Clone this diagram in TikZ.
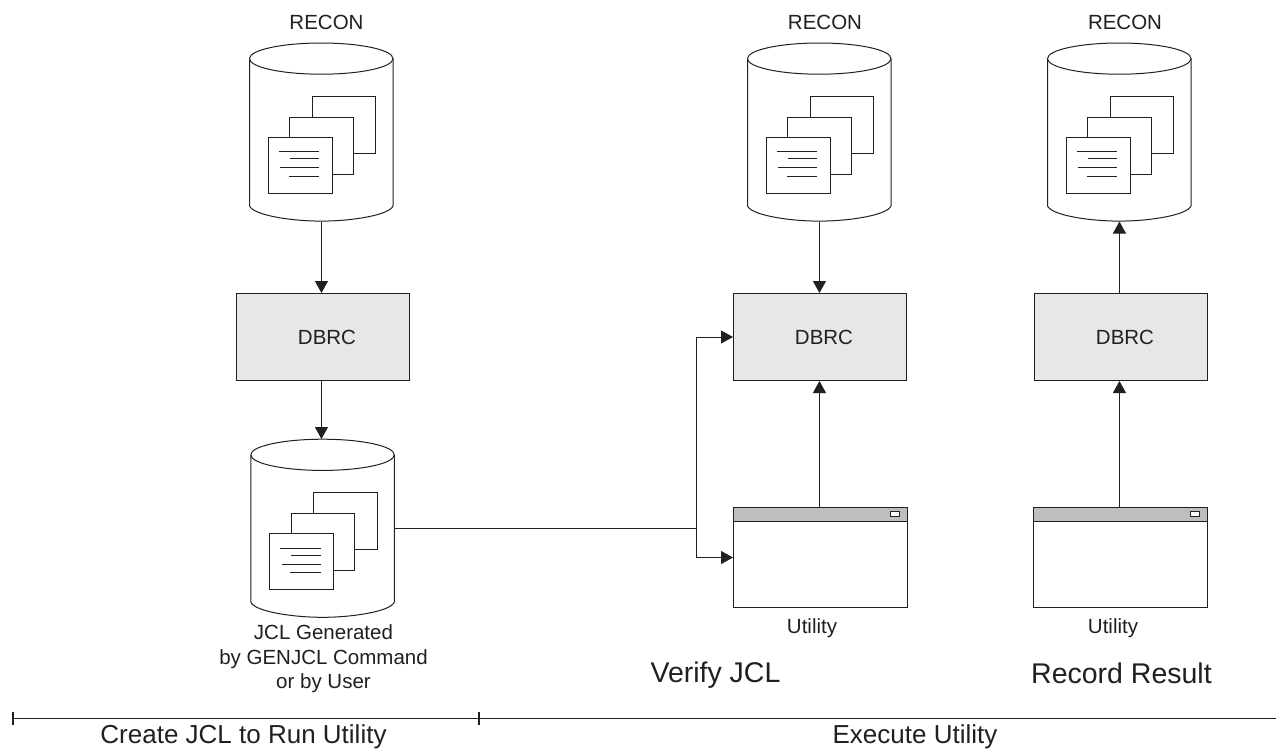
\documentclass[tikz,border=0pt]{standalone}
\usepackage{fontspec}
\setmainfont{Liberation Sans}
\usetikzlibrary{arrows.meta}
\definecolor{ink}{HTML}{231F20}
\definecolor{boxfill}{HTML}{E6E7E8}
\definecolor{barfill}{HTML}{BCBEC0}
\tikzset{
  ln/.style={draw=ink,line width=1pt},
  thinln/.style={draw=ink,line width=0.8pt},
  conn/.style={ln,-{Triangle[length=12pt,width=13pt,fill=ink]},shorten >=0pt},
  plainconn/.style={ln},
  dbrc/.style={ln,fill=boxfill,minimum width=173pt,minimum height=87pt,inner sep=0pt,text=ink,font=\fontsize{20.5}{24}\selectfont,anchor=north west,execute at begin node={\hspace*{8pt}}},
  win/.style={ln,fill=white,minimum width=174pt,minimum height=99pt,inner sep=0pt,anchor=north west},
  lab/.style={text=ink,font=\fontsize{20.5}{24.5}\selectfont,align=center,inner sep=0pt},
  big/.style={text=ink,font=\fontsize{28.5}{32}\selectfont,inner sep=0pt},
  mid/.style={text=ink,font=\fontsize{26}{30}\selectfont,inner sep=0pt},
  cylanchor/.style={minimum width=143.5pt,minimum height=178.3pt,inner sep=0pt,anchor=north west},
}
% #1 node name, #2 left x, #3 top y
\newcommand{\dbcyl}[3]{%
  \begin{scope}[shift={(#2,#3)}]
    \node[cylanchor] (#1) at (0,0) {};
    \draw[ln,fill=white] (0,15.8) -- (0,163) .. controls (3,172) and (40,178.3) .. (71.75,178.3)
       .. controls (103.5,178.3) and (140.5,172) .. (143.5,163) -- (143.5,15.8);
    \draw[ln,fill=white] (71.75,15.8) ellipse [x radius=71.75,y radius=15.6];
    \draw[ln,fill=white] (62.7,53.9) rectangle (126.4,110.3);
    \draw[ln,fill=white] (40.4,74.9) rectangle (104,131.3);
    \draw[ln,fill=white] (19,94.2) rectangle (83,150.5);
    \draw[thinln] (29,108.9) -- (69.7,108.9);
    \draw[thinln] (40,115.9) -- (69.7,115.9);
    \draw[thinln] (30.7,124.9) -- (69.7,124.9);
    \draw[thinln] (39,133.2) -- (69.7,133.2);
  \end{scope}}
% #1 node name, #2 left x, #3 top y
\newcommand{\utilwin}[3]{%
  \node[win] (#1) at (#2,#3) {};
  \begin{scope}[shift={(#2,#3)}]
    \draw[ln,fill=barfill] (0,0) rectangle (174,14);
    \draw[thinln,fill=white] (157.7,4.3) rectangle (166.7,9);
  \end{scope}}
\begin{document}
\begin{tikzpicture}[x=1pt,y=-1pt]
\useasboundingbox (0,0) rectangle (1276,748);
\fill[white] (0,0) rectangle (1276,748);

\node[lab] (r1) at (326.5,22.5) {RECON};
\node[lab] (r2) at (825,22.5) {RECON};
\node[lab] (r3) at (1125,22.5) {RECON};

\dbcyl{c1}{249.5}{42.8}
\dbcyl{c2}{747.5}{42.8}
\dbcyl{c3}{1047.5}{42.8}
\dbcyl{c4}{250.8}{439}

\node[dbrc] (d1) at (236,293) {DBRC};
\node[dbrc] (d2) at (733,293) {DBRC};
\node[dbrc] (d3) at (1034,293) {DBRC};

\utilwin{w2}{733}{507.5}
\utilwin{w3}{1033}{507.5}

\node[lab] (u2) at (812,628) {Utility};
\node[lab] (u3) at (1113,628) {Utility};
\node[lab] (jcl) at (323.5,659) {JCL Generated\\by GENJCL Command\\or by User};

\node[big] (v) at (715.5,675) {Verify JCL};
\node[big] (rr) at (1121.5,673) {Record Result};

\draw[conn] (c1.south) -- (d1.north -| c1.south);
\draw[conn] (d1.south -| c1.south) -- (c4.north -| c1.south);
\draw[conn] (c2.south) -- (d2.north -| c2.south);
\draw[conn] (d3.north -| c3.south) -- (c3.south);
\draw[conn] (w2.north -| c2.south) -- (d2.south -| c2.south);
\draw[conn] (w3.north -| c3.south) -- (d3.south -| c3.south);

\coordinate (j) at (696,528.3);
\draw[plainconn] (c4.east |- j) -- (j);
\draw[conn] (j) |- (d2.west);
\draw[conn] (j) |- (w2.west);

\coordinate (t0) at (13,718.5);
\coordinate (t1) at (479,718.5);
\coordinate (t2) at (1276,718.5);
\draw[ln] (t0) -- (t1) -- (t2);
\draw[draw=ink,line width=1.6pt] ([yshift=-6.5pt]t0) -- ([yshift=6.5pt]t0);
\draw[draw=ink,line width=1.1pt] ([yshift=-6.5pt]t1) -- ([yshift=6.5pt]t1);
\node[mid] (cj) at (243.5,737) {Create JCL to Run Utility};
\node[mid] (eu) at (915,737) {Execute Utility};
\end{tikzpicture}
\end{document}
